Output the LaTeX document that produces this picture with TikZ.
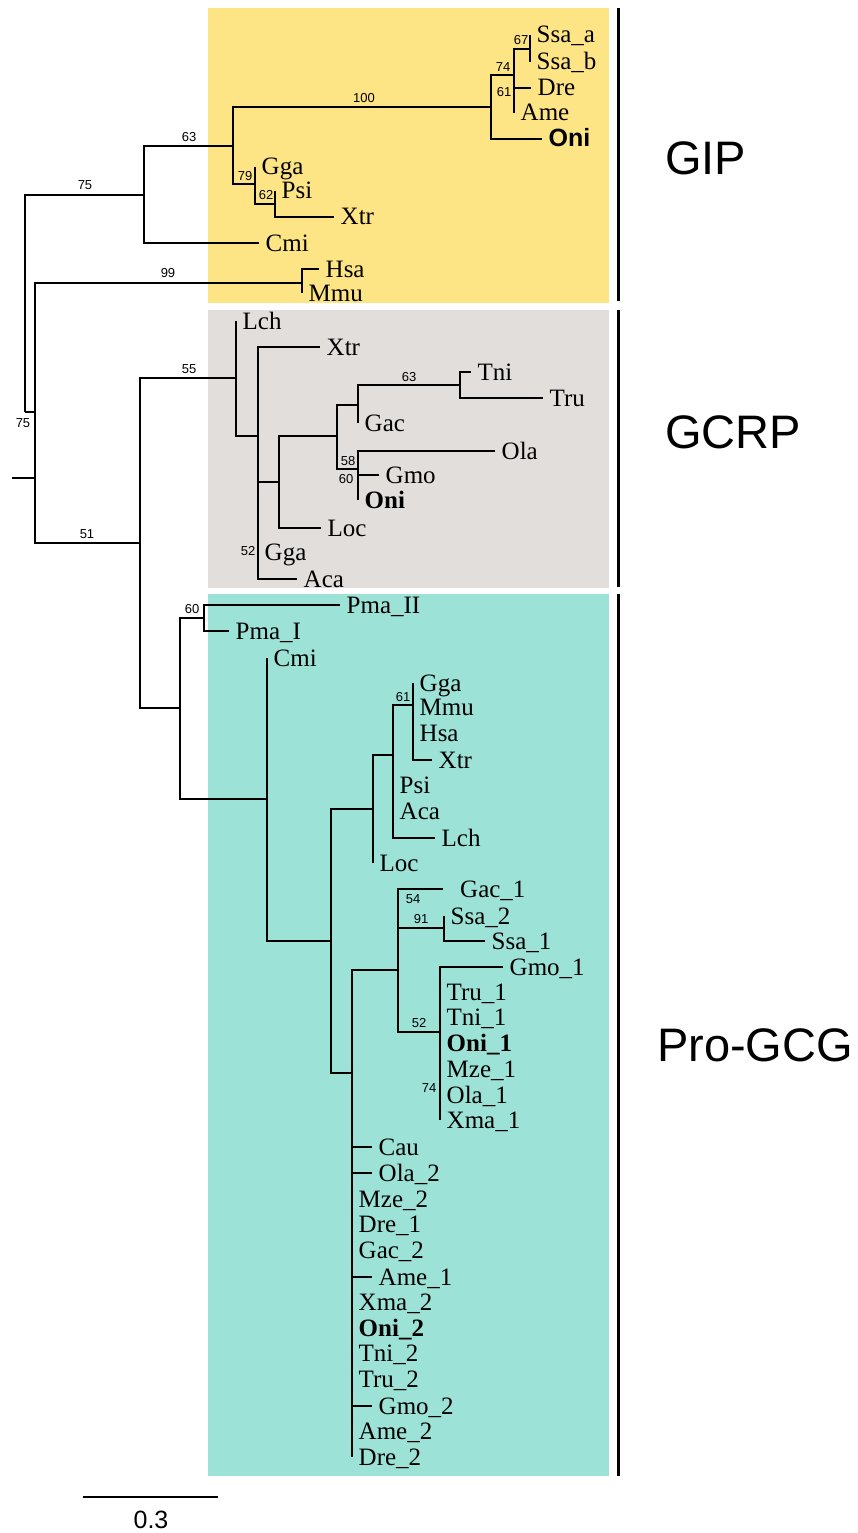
\documentclass[tikz,border=0pt]{standalone}
\usepackage{fontspec}
\setmainfont{Liberation Serif}
\newfontfamily\labfont{Liberation Sans}
\definecolor{gipyellow}{RGB}{253,228,133}
\definecolor{gcrpgray}{RGB}{226,222,220}
\definecolor{progcgteal}{RGB}{156,226,214}
\tikzset{
  branch/.style={line width=2.8pt},
  tiplab/.style={anchor=base west, inner sep=0pt, xshift=6.5pt, yshift=-8pt, font=\fontsize{25}{25}\selectfont},
  boot/.style={inner sep=0pt, font=\labfont\fontsize{13}{13}\selectfont},
  cladelab/.style={anchor=west, inner sep=0pt, font=\labfont\fontsize{47}{47}\selectfont},
  cladebar/.style={line width=3pt},
  scalelab/.style={inner sep=0pt, font=\labfont\fontsize{25}{25}\selectfont}
}
\begin{document}
\begin{tikzpicture}[x=1pt, y=-1pt]
  \useasboundingbox (0,0) rectangle (858,1533);
  \fill[gipyellow] (208,8) rectangle (609,303);
  \fill[gcrpgray] (208,310) rectangle (609,588);
  \fill[progcgteal] (208,594) rectangle (609,1476);
  \draw[cladebar] (618,8) -- (618,301);
  \draw[cladebar] (618,310) -- (618,587);
  \draw[cladebar] (618,594) -- (618,1476);
  \node[cladelab] (gip) at (665,158) {GIP};
  \node[cladelab] (gcrp) at (665,432) {GCRP};
  \node[cladelab] (progcg) at (657,1045) {Pro-GCG};

  % internal nodes
  \foreach \n/\x/\y in {rs/12/478, r0/35/478, a1/25/412, g0/144/195, g1/233/146, g2/491/107, g4/514/75,
      g5/530/49, g3/255/184, g6/275/204, hm/302/283, b1/140/543, c0/236/378, c1/258/436, c2/279/482,
      c3/337/436, c4/358/405, c6/460/385, c5/358/469, p0/180/708, p1/204/618, p2/267/799, p3/331/941,
      p4/373/809, p6/393/755, p7/413/705, p5/352/1073, p8/398/970, p9/444/928, p10/440/1032}
    \coordinate (\n) at (\x,\y);

  % tips
  \foreach \n/\x/\y/\t in {ta1/530/35/Ssa\_a, ta2/530/62/Ssa\_b, ta3/531/88/Dre, ta4/514/113/Ame,
      ta5/542/139/{\labfont\bfseries Oni}, ta6/255/167/Gga, ta7/275/191/Psi, ta8/334/217/Xtr, ta9/259/243/Cmi,
      ta10/319/269/Hsa, ta11/302/293/Mmu,
      tb1/236/321/Lch, tb2/320/347/Xtr, tb3/471/372/Tni, tb4/543/398/Tru, tb5/358/423/Gac,
      tb6/495/451/Ola, tb7/379/475/Gmo, tb8/358/500/\textbf{Oni}, tb9/321/528/Loc, tb10/258/552/Gga,
      tb11/297/579/Aca,
      tc1/340/605/Pma\_II, tc2/229/631/Pma\_I, tc3/267/658/Cmi, tc4/413/683/Gga, tc5/413/707/Mmu,
      tc6/413/733/Hsa, tc7/432/760/Xtr, tc8/393/785/Psi, tc9/393/811/Aca, tc10/435/838/Lch,
      tc11/373/863/Loc, tc12/443/889/\hspace*{10.5pt}Gac\_1, tc13/444/916/Ssa\_2, tc14/485/941/Ssa\_1,
      tc15/503/967/Gmo\_1, tc16/440/992/Tru\_1, tc17/440/1017/Tni\_1, tc18/440/1043/\textbf{Oni\_1},
      tc19/440/1069/Mze\_1, tc20/440/1095/Ola\_1, tc21/440/1120/Xma\_1, tc22/372/1147/Cau,
      tc23/372/1173/Ola\_2, tc24/352/1199/Mze\_2, tc25/352/1224/Dre\_1, tc26/352/1250/Gac\_2,
      tc27/372/1277/Ame\_1, tc28/352/1302/Xma\_2, tc29/352/1328/\textbf{Oni\_2}, tc30/352/1353/Tni\_2,
      tc31/352/1379/Tru\_2, tc32/372/1406/Gmo\_2, tc33/352/1431/Ame\_2, tc34/352/1457/Dre\_2}
  {
    \coordinate (\n) at (\x,\y);
    \node[tiplab] (\n-lab) at (\n) {\t};
  }

  % branches
  \foreach \a/\b in {rs/r0, r0/a1, r0/hm, r0/b1, a1/g0, g0/g1, g0/ta9, g1/g2, g1/g3, g2/g4, g2/ta5,
      g4/g5, g4/ta3, g4/ta4, g5/ta1, g5/ta2, g3/ta6, g3/g6, g6/ta7, g6/ta8, hm/ta10, hm/ta11,
      b1/c0, b1/p0, c0/tb1, c0/c1, c1/tb2, c1/c2, c1/tb10, c1/tb11, c2/c3, c2/tb9, c3/c4, c3/c5,
      c4/c6, c4/tb5, c6/tb3, c6/tb4, c5/tb6, c5/tb7, c5/tb8,
      p0/p1, p0/p2, p1/tc1, p1/tc2, p2/tc3, p2/p3, p3/p4, p3/p5, p4/p6, p4/tc11, p6/p7, p6/tc8,
      p6/tc9, p6/tc10, p7/tc4, p7/tc5, p7/tc6, p7/tc7, p5/p8, p8/tc12, p8/p9, p8/p10, p9/tc13,
      p9/tc14, p10/tc15, p10/tc16, p10/tc17, p10/tc18, p10/tc19, p10/tc20, p10/tc21,
      p5/tc22, p5/tc23, p5/tc24, p5/tc25, p5/tc26, p5/tc27, p5/tc28, p5/tc29, p5/tc30, p5/tc31,
      p5/tc32, p5/tc33, p5/tc34}
    \draw[branch] (\a) |- (\b);

  % bootstrap values
  \foreach \x/\y/\v [count=\i] in {23/423/75, 85/185/75, 189/137/63, 364/98/100, 503/67/74, 521/40/67,
      504/92/61, 245/176/79, 266/195/62, 168/273/99, 87/534/51, 189/369/55, 409/377/63, 348/461/58,
      346/479/60, 248/551/52, 192/609/60, 403/697/61, 413/899/54, 421/919/91, 419/1023/52, 429/1088/74}
    \node[boot] (bs\i) at (\x,\y) {\v};

  % scale bar
  \coordinate (sb-l) at (83,1497);
  \coordinate (sb-r) at (218,1497);
  \draw[branch] (sb-l) -- (sb-r);
  \node[scalelab] (sb-lab) at (151,1520) {0.3};
\end{tikzpicture}
\end{document}
